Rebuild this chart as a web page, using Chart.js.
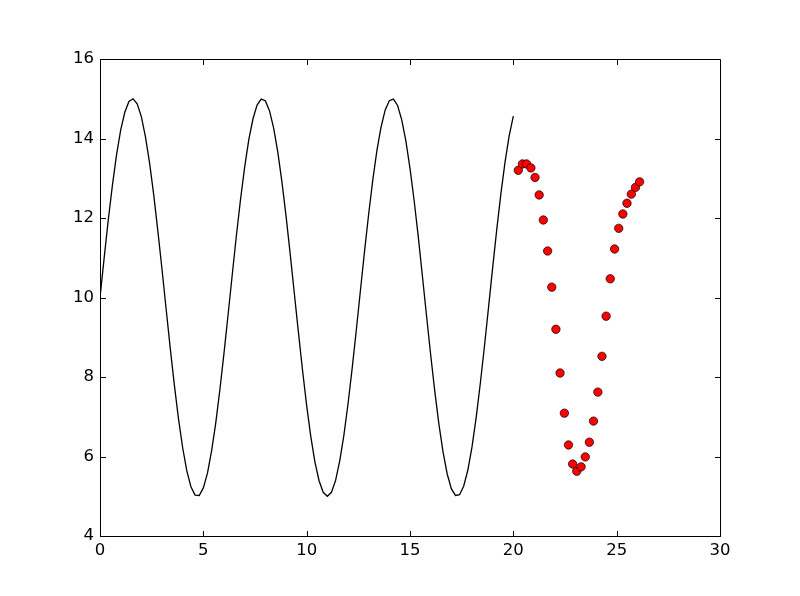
<!DOCTYPE html>
<html>
<head>
<meta charset="utf-8">
<script src="https://cdn.jsdelivr.net/npm/chart.js@4/dist/chart.umd.min.js"></script>
<style>
html,body{margin:0;padding:0;background:#fff;}
#wrap{width:800px;height:596px;}
</style>
</head>
<body>
<div id="wrap"><canvas id="c" width="800" height="596"></canvas></div>
<script>
const lineX = [0.0,0.2,0.4,0.6,0.8,1.0,1.2,1.4,1.6,1.8,2.0,2.2,2.4,2.6,2.8,3.0,3.2,3.4,3.6,3.8,4.0,4.2,4.4,4.6,4.8,5.0,5.2,5.4,5.6,5.8,6.0,6.2,6.4,6.6,6.8,7.0,7.2,7.4,7.6,7.8,8.0,8.2,8.4,8.6,8.8,9.0,9.2,9.4,9.6,9.8,10.0,10.2,10.4,10.6,10.8,11.0,11.2,11.4,11.6,11.8,12.0,12.2,12.4,12.6,12.8,13.0,13.2,13.4,13.6,13.8,14.0,14.2,14.4,14.6,14.8,15.0,15.2,15.4,15.6,15.8,16.0,16.2,16.4,16.6,16.8,17.0,17.2,17.4,17.6,17.8,18.0,18.2,18.4,18.6,18.8,19.0,19.2,19.4,19.6,19.8,20.0];
const lineY = [10.00,10.99,11.95,12.82,13.59,14.21,14.66,14.93,15.00,14.87,14.55,14.04,13.38,12.58,11.67,10.71,9.71,8.72,7.79,6.94,6.22,5.64,5.24,5.03,5.02,5.21,5.58,6.14,6.84,7.68,8.60,9.58,10.58,11.56,12.47,13.28,13.97,14.49,14.84,14.99,14.95,14.70,14.27,13.67,12.92,12.06,11.11,10.12,9.13,8.17,7.28,6.50,5.86,5.39,5.10,5.00,5.10,5.40,5.89,6.53,7.32,8.21,9.17,10.17,11.16,12.10,12.96,13.70,14.29,14.72,14.95,14.99,14.83,14.47,13.94,13.25,12.44,11.53,10.54,9.54,8.56,7.64,6.81,6.11,5.56,5.19,5.02,5.04,5.26,5.66,6.24,6.97,7.83,8.76,9.75,10.75,11.72,12.62,13.41,14.07,14.56];
const dotX = [20.24,20.44,20.64,20.85,21.05,21.25,21.45,21.66,21.86,22.06,22.26,22.47,22.67,22.87,23.07,23.28,23.48,23.68,23.88,24.09,24.29,24.49,24.69,24.90,25.10,25.30,25.50,25.71,25.91,26.11];
const dotY = [13.20,13.36,13.36,13.26,13.02,12.58,11.95,11.17,10.26,9.20,8.10,7.09,6.29,5.81,5.63,5.74,5.99,6.36,6.89,7.62,8.52,9.53,10.47,11.22,11.74,12.10,12.37,12.60,12.77,12.91];
const xRange = [0, 30], xStep = 5;
const yRange = [4, 16], yStep = 2;

const linePts = lineX.map((x, i) => ({x: x, y: lineY[i]}));
const dotPts = dotX.map((x, i) => ({x: x, y: dotY[i]}));

const FONT = {family: 'DejaVu Sans', size: 16.5};

const framePlugin = {
  id: 'frame',
  afterDraw(chart) {
    const ctx = chart.ctx, a = chart.chartArea;
    const xs = chart.scales.x, ys = chart.scales.y;
    const L = Math.round(a.left) + 0.5, R = Math.round(a.right) + 0.5;
    const T = Math.round(a.top) + 0.5, B = Math.round(a.bottom) + 0.5;
    const tl = 5.5;
    ctx.save();
    ctx.strokeStyle = '#000';
    ctx.lineWidth = 1;
    ctx.beginPath();
    ctx.rect(L, T, R - L, B - T);
    xs.ticks.forEach(t => {
      const p = Math.round(xs.getPixelForValue(t.value)) + 0.5;
      ctx.moveTo(p, B); ctx.lineTo(p, B - tl);
      ctx.moveTo(p, T); ctx.lineTo(p, T + tl);
    });
    ys.ticks.forEach(t => {
      const p = Math.round(ys.getPixelForValue(t.value)) + 0.5;
      ctx.moveTo(L, p); ctx.lineTo(L + tl, p);
      ctx.moveTo(R, p); ctx.lineTo(R - tl, p);
    });
    ctx.stroke();
    ctx.restore();
  }
};

new Chart(document.getElementById('c'), {
  type: 'scatter',
  data: {
    datasets: [
      {
        data: linePts,
        showLine: true,
        borderColor: '#000',
        borderWidth: 1.3,
        pointRadius: 0,
        pointHoverRadius: 0,
        tension: 0,
        fill: false
      },
      {
        data: dotPts,
        showLine: false,
        pointRadius: 4.2,
        pointBackgroundColor: '#ff0000',
        pointBorderColor: '#000',
        pointBorderWidth: 0.7
      }
    ]
  },
  options: {
    responsive: false,
    animation: false,
    devicePixelRatio: 1,
    layout: {padding: {left: 0, top: 59, right: 80, bottom: 0}},
    plugins: {legend: {display: false}, tooltip: {enabled: false}},
    scales: {
      x: {
        type: 'linear',
        min: xRange[0], max: xRange[1],
        ticks: {stepSize: xStep, color: '#000', font: FONT, padding: 5, maxRotation: 0},
        grid: {display: false, drawTicks: false},
        border: {display: false},
        afterFit(s) { s.height = 60; }
      },
      y: {
        type: 'linear',
        min: yRange[0], max: yRange[1],
        ticks: {stepSize: yStep, color: '#000', font: FONT, padding: 6},
        grid: {display: false, drawTicks: false},
        border: {display: false},
        afterFit(s) { s.width = 100; }
      }
    }
  },
  plugins: [framePlugin]
});
</script>
</body>
</html>
